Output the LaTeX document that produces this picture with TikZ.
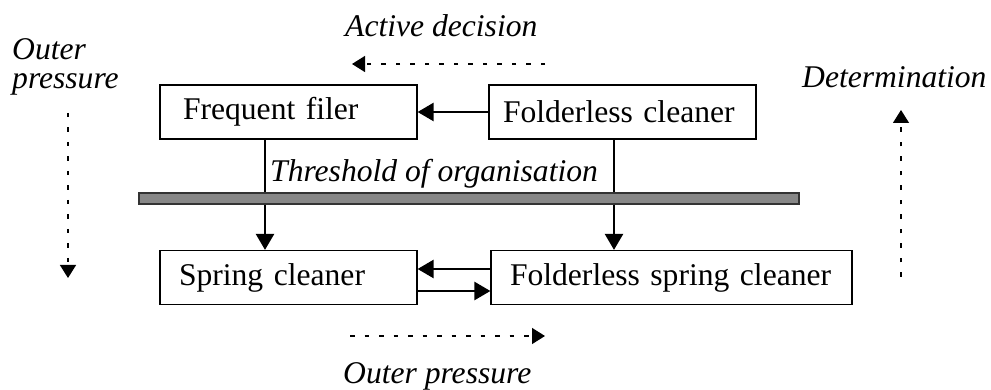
\documentclass[tikz,border=0pt]{standalone}
\usepackage{fontspec}
\setmainfont{Liberation Serif}
\usetikzlibrary{arrows.meta}
\begin{document}
\begin{tikzpicture}[x=1pt,y=-1pt,
  every node/.style={font=\fontsize{31.6}{29.5}\selectfont},
  box/.style={draw, line width=1.2pt, minimum height=54pt, inner ysep=0pt, align=left},
  lbl/.style={anchor=base west, inner sep=0pt, align=left,
              font=\fontsize{31.6}{29.5}\selectfont\itshape},
  link/.style={line width=2.5pt, -{Triangle[length=16pt,width=18pt]}},
  hint/.style={line width=1.3pt, dash pattern=on 4.5pt off 10pt,
               -{Triangle[length=13pt,width=16pt]}},
  bar/.style={draw=black!80, fill=black!47, line width=1.2pt,
              minimum width=660pt, minimum height=11pt, inner sep=0pt}]
  \useasboundingbox (0,0) rectangle (991,390);

  % the four organiser types
  \node[box, text width=211pt, inner xsep=23pt] (ff)  at (288.5,112)   {Frequent filer};
  \node[box, text width=239pt, inner xsep=14pt] (fc)  at (622.5,112)   {Folderless cleaner};
  \node[box, text width=219pt, inner xsep=19pt] (sc)  at (288.5,277.5) {Spring cleaner};
  \node[box, text width=323pt, inner xsep=19pt] (fsc) at (671.5,277.5) {Folderless spring cleaner};

  % threshold bar
  \node[bar] (bar) at (469,198.5) {};
  \node[lbl] (thr) at (270,182) {Threshold of organisation};

  % vertical drop columns
  \coordinate (c1) at (265,0);
  \coordinate (c2) at (614,0);
  \draw[line width=2.5pt] (ff.south -| c1) -- (bar.north -| c1);
  \draw[link] (bar.south -| c1) -- (sc.north -| c1);
  \draw[line width=2.5pt] (fc.south -| c2) -- (bar.north -| c2);
  \draw[link] (bar.south -| c2) -- (fsc.north -| c2);

  % horizontal transitions
  \draw[link] (fc.west) -- (ff.east);
  \draw[link] ([yshift=8.5pt]fsc.west) -- ([yshift=8.5pt]sc.east);
  \draw[link] ([yshift=-13.5pt]sc.east) -- ([yshift=-13.5pt]fsc.west);

  % forces acting on the organisers
  \node[lbl] (act) at (345,37) {Active decision};
  \coordinate (actA) at (545,64);
  \coordinate (actB) at (352,64);
  \draw[hint] (actA) -- (actB);

  \node[lbl] (outL) at (12,89) {Outer\\pressure};
  \coordinate (outLA) at (68,113);
  \coordinate (outLB) at (68,278);
  \draw[hint] (outLA) -- (outLB);

  \node[lbl] (det) at (802,88) {Determination};
  \coordinate (detA) at (901,277);
  \coordinate (detB) at (901,110);
  \draw[hint] (detA) -- (detB);

  \node[lbl] (outB) at (343,383) {Outer pressure};
  \coordinate (outBA) at (350,336);
  \coordinate (outBB) at (545,336);
  \draw[hint] (outBA) -- (outBB);
\end{tikzpicture}
\end{document}
